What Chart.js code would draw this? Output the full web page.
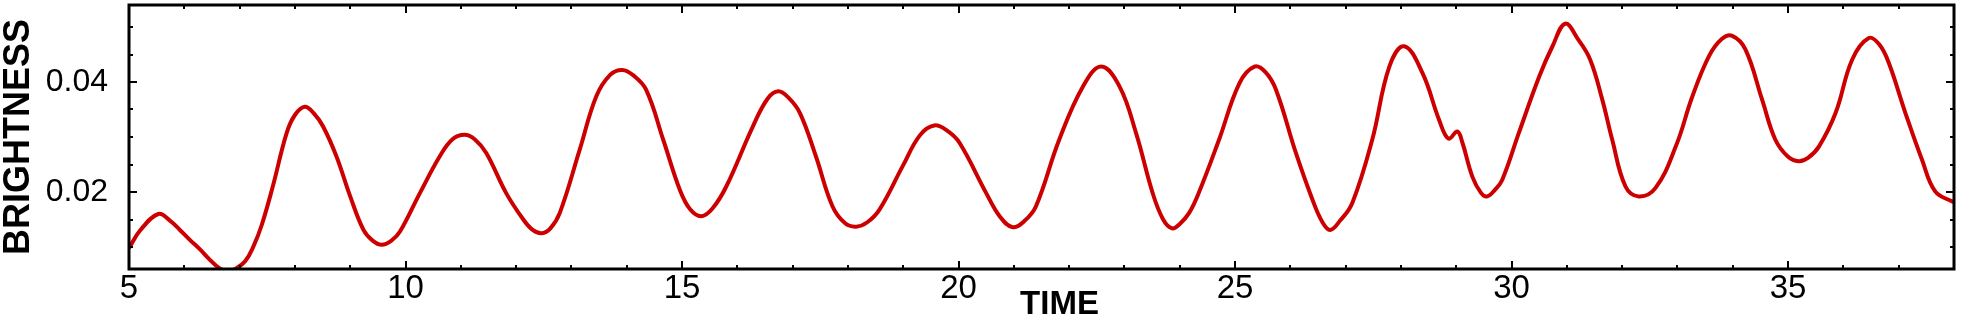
<!DOCTYPE html>
<html>
<head>
<meta charset="utf-8">
<title>Brightness vs time</title>
<script src="https://cdn.jsdelivr.net/npm/chart.js@4.4.1/dist/chart.umd.min.js"></script>
<style>
  html, body { margin: 0; padding: 0; background: #fff; }
  #wrap { width: 1961px; height: 320px; }
</style>
</head>
<body>
<div id="wrap"><canvas id="chart" width="1961" height="320"></canvas></div>
<script>
// values
const time = [
  5.0, 5.2, 5.53, 5.74, 5.92, 6.1, 6.28, 6.45, 6.64, 6.8, 6.92, 7.1, 7.25, 7.4, 7.6, 7.85, 8.0, 8.18, 8.35, 8.51,
  8.75, 9.0, 9.24, 9.4, 9.57, 9.75, 9.9, 10.26, 10.62, 10.85, 11.07, 11.25, 11.46, 11.82, 12.13, 12.3, 12.46, 12.62, 12.79, 13.15,
  13.45, 13.7, 13.92, 14.12, 14.35, 14.66, 14.96, 15.15, 15.35, 15.55, 15.8, 16.28, 16.55, 16.74, 16.92, 17.13, 17.42, 17.72, 17.95, 18.15,
  18.35, 18.57, 18.99, 19.3, 19.56, 19.8, 20.02, 20.5, 20.75, 20.98, 21.2, 21.4, 21.82, 22.25, 22.58, 22.91, 23.21, 23.51, 23.7, 23.86,
  24.0, 24.17, 24.35, 24.71, 25.08, 25.35, 25.55, 25.74, 26.1, 26.4, 26.58, 26.72, 26.9, 27.12, 27.48, 27.79, 28.06, 28.39, 28.69, 28.86,
  29.02, 29.11, 29.29, 29.45, 29.56, 29.7, 29.83, 30.13, 30.5, 30.74, 30.97, 31.2, 31.42, 31.64, 31.82, 32.06, 32.3, 32.6, 32.97, 33.27,
  33.57, 33.8, 33.99, 34.23, 34.53, 34.77, 35.0, 35.19, 35.36, 35.56, 35.86, 36.16, 36.46, 36.65, 36.82, 37.12, 37.42, 37.66, 37.96, 38.0
];
const brightness = [
  0.0098, 0.0130, 0.0160, 0.0148, 0.0131, 0.0113, 0.0096, 0.0078, 0.0061, 0.0056, 0.0060, 0.0074, 0.0101, 0.0140, 0.0210, 0.0307, 0.0340, 0.0355, 0.0342, 0.0319,
  0.0265, 0.0192, 0.0131, 0.0112, 0.0104, 0.0112, 0.0128, 0.0198, 0.0265, 0.0296, 0.0304, 0.0296, 0.0271, 0.0198, 0.0150, 0.0131, 0.0125, 0.0134, 0.0162, 0.0277,
  0.0374, 0.0413, 0.0422, 0.0412, 0.0386, 0.0295, 0.0204, 0.0168, 0.0156, 0.0170, 0.0210, 0.0319, 0.0370, 0.0383, 0.0372, 0.0344, 0.0265, 0.0174, 0.0143, 0.0137,
  0.0145, 0.0168, 0.0247, 0.0303, 0.0321, 0.0311, 0.0289, 0.0198, 0.0155, 0.0136, 0.0148, 0.0174, 0.0295, 0.0392, 0.0428, 0.0392, 0.0307, 0.0198, 0.0150, 0.0134,
  0.0142, 0.0162, 0.0200, 0.0295, 0.0398, 0.0428, 0.0418, 0.0386, 0.0271, 0.0186, 0.0145, 0.0131, 0.0148, 0.0180, 0.0295, 0.0428, 0.0465, 0.0416, 0.0331, 0.0297,
  0.0310, 0.0290, 0.0228, 0.0198, 0.0192, 0.0204, 0.0222, 0.0307, 0.0410, 0.0465, 0.0506, 0.0478, 0.0441, 0.0368, 0.0295, 0.0210, 0.0192, 0.0207, 0.0283, 0.0374,
  0.0447, 0.0478, 0.0484, 0.0459, 0.0368, 0.0295, 0.0264, 0.0256, 0.0262, 0.0283, 0.0344, 0.0441, 0.0480, 0.0468, 0.0435, 0.0344, 0.0259, 0.0201, 0.0183, 0.0182
];

// axis ticks
const xLabelTicks = [5, 10, 15, 20, 25, 30, 35];
const xMinorTicks = [6, 7, 8, 9, 11, 12, 13, 14, 16, 17, 18, 19, 21, 22, 23, 24, 26, 27, 28, 29, 31, 32, 33, 34, 36, 37];
const yLabelTicks = [0.02, 0.04];
const yMinorTicks = [0.01, 0.015, 0.025, 0.03, 0.035, 0.045, 0.05];

const LINE_RED = "#cc0000";

// box frame + inward ticks on all four sides
const frameTicks = {
  id: "frameTicks",
  afterDatasetsDraw(chart) {
    const { ctx, chartArea: a, scales } = chart;
    const xs = scales.x;
    const ys = scales.y;
    ctx.save();
    ctx.strokeStyle = "#000";
    ctx.lineWidth = 2;
    ctx.beginPath();
    const xTick = (v, len) => {
      const px = Math.round(xs.getPixelForValue(v));
      ctx.moveTo(px, a.bottom); ctx.lineTo(px, a.bottom - len);
      ctx.moveTo(px, a.top); ctx.lineTo(px, a.top + len);
    };
    const yTick = (v, len) => {
      const py = Math.round(ys.getPixelForValue(v));
      ctx.moveTo(a.left, py); ctx.lineTo(a.left + len, py);
      ctx.moveTo(a.right, py); ctx.lineTo(a.right - len, py);
    };
    xLabelTicks.forEach((v) => xTick(v, 8));
    xMinorTicks.forEach((v) => xTick(v, 4));
    yLabelTicks.forEach((v) => yTick(v, 8));
    yMinorTicks.forEach((v) => yTick(v, 4));
    ctx.stroke();

    ctx.lineWidth = 3;
    ctx.strokeRect(a.left, a.top, a.right - a.left, a.bottom - a.top);

    // x title sits a little right of centre in the original
    ctx.fillStyle = "#000";
    ctx.font = "bold 33px 'Liberation Sans', Arial, sans-serif";
    ctx.textAlign = "center";
    ctx.textBaseline = "middle";
    ctx.fillText("TIME", (a.left + a.right) / 2 + 18, 305);
    ctx.restore();
  },
};

// keep chart.js from shrinking the plot for label overhang
function noOverhang(scale) {
  scale.paddingTop = 0;
  scale.paddingBottom = 0;
  scale.paddingLeft = 0;
  scale.paddingRight = 0;
}

const ctx = document.getElementById("chart").getContext("2d");
new Chart(ctx, {
  type: "line",
  data: {
    datasets: [
      {
        label: "Brightness",
        data: time.map((t, i) => ({ x: t, y: brightness[i] })),
        borderColor: LINE_RED,
        borderWidth: 4,
        pointRadius: 0,
        fill: false,
        tension: 0.4,
      },
    ],
  },
  options: {
    responsive: false,
    animation: false,
    devicePixelRatio: 1,
    layout: { padding: { top: 5, right: 7, left: 0, bottom: 0 } },
    plugins: { legend: { display: false }, tooltip: { enabled: false } },
    scales: {
      x: {
        type: "linear",
        min: 5,
        max: 38,
        grid: { display: false, drawTicks: false },
        border: { display: false },
        afterBuildTicks: (scale) => {
          scale.ticks = xLabelTicks.map((v) => ({ value: v }));
        },
        afterFit: (scale) => {
          scale.height = 51;
          noOverhang(scale);
        },
        ticks: {
          color: "#000",
          padding: 3,
          maxRotation: 0,
          autoSkip: false,
          font: { family: "'Liberation Sans', Arial, sans-serif", size: 33, lineHeight: 1 },
          callback: (v) => String(v),
        },
        title: { display: false },
      },
      y: {
        min: 0.006,
        max: 0.054,
        grid: { display: false, drawTicks: false },
        border: { display: false },
        afterBuildTicks: (scale) => {
          scale.ticks = yLabelTicks.map((v) => ({ value: v }));
        },
        afterFit: (scale) => {
          scale.width = 129;
          noOverhang(scale);
        },
        ticks: {
          color: "#000",
          padding: 21,
          font: { family: "'Liberation Sans', Arial, sans-serif", size: 32, lineHeight: 1 },
          callback: (v) => v.toFixed(2),
        },
        title: {
          display: true,
          text: "BRIGHTNESS",
          color: "#000",
          padding: { top: 1, bottom: 0 },
          font: { family: "'Liberation Sans', Arial, sans-serif", size: 36, weight: "bold", lineHeight: 1 },
        },
      },
    },
  },
  plugins: [frameTicks],
});
</script>
</body>
</html>
